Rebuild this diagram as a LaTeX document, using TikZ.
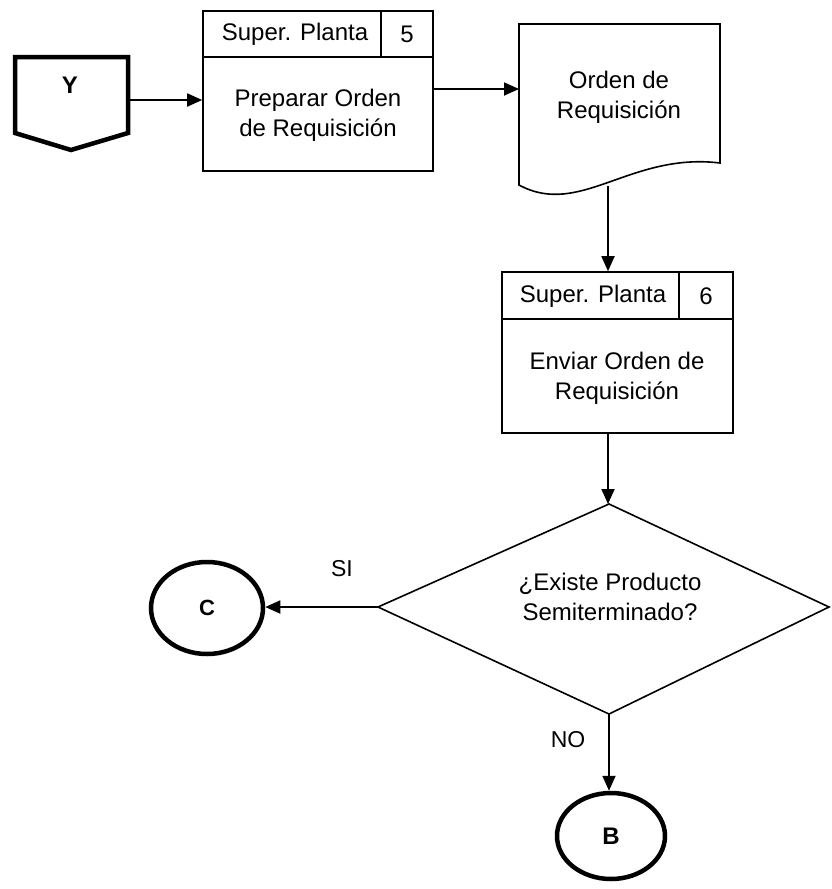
\documentclass[tikz,border=0pt]{standalone}
\usepackage{fontspec}
\setmainfont{Liberation Sans}
\usetikzlibrary{shapes.geometric,arrows.meta}
\begin{document}
\begin{tikzpicture}[x=1pt,y=-1pt,
 lnthin/.style={line width=1.6pt},
 lnthick/.style={line width=4.5pt},
 arr/.style={line width=1.8pt,-{Triangle[length=15pt,width=13pt]}},
 txt/.style={font=\fontsize{24}{30}\selectfont, align=center, inner sep=0pt},
 lbl/.style={font=\fontsize{23}{28}\selectfont, inner sep=0pt},
 btxt/.style={font=\fontsize{24}{28}\selectfont\bfseries, inner sep=0pt},
 box/.style={draw, line width=1.6pt, inner sep=0pt},
 conn/.style={draw, ellipse, line width=4.5pt, inner sep=0pt}]
\useasboundingbox (0,0) rectangle (831,889);

% Off-page connector Y
\draw[lnthick, line join=miter] (15,57) -- (128,57) -- (128,133) -- (71,150) -- (15,133) -- cycle;
\node[btxt] (Y) at (70,85) {Y};
\coordinate (Yr) at (130,100);

% Process box 1
\node[box, minimum width=230pt, minimum height=160pt] (p1) at (318,91) {};
\draw[lnthin] (203,57) -- (433,57);
\draw[lnthin] (381,11) -- (381,57);
\node[txt] (h1) at (295,34) {Super. Planta};
\node[txt] (n1) at (407,34) {5};
\node[txt] (t1) at (318,115) {Preparar Orden\\de Requisición};

\draw[arr] (Yr) -- (Yr -| p1.west);

% Document
\draw[lnthin] (519,24) -- (720,24) -- (720,163) .. controls (630,152) and (580,218) .. (519,185) -- cycle;
\node[txt] (doc) at (619,97) {Orden de\\Requisición};
\coordinate (dl) at (519,89);
\coordinate (docb) at (608,186);
\draw[arr] (p1.east |- dl) -- (dl);

% Process box 2
\node[box, minimum width=231pt, minimum height=161pt] (p2) at (617.5,352.5) {};
\draw[lnthin] (502,319) -- (733,319);
\draw[lnthin] (679,272) -- (679,319);
\node[txt] (h2) at (593,296) {Super. Planta};
\node[txt] (n2) at (706,296) {6};
\node[txt] (t2) at (617,378) {Enviar Orden de\\Requisición};

\draw[arr] (docb) -- (docb |- p2.north);

% Decision
\coordinate (dT) at (609,504);
\coordinate (dL) at (378,607);
\coordinate (dB) at (609,714);
\coordinate (dR) at (829,607);
\draw[lnthin] (dT) -- (dR) -- (dB) -- (dL) -- cycle;
\node[txt] (q) at (610,597) {¿Existe Producto\\Semiterminado?};

\draw[arr] (p2.south -| docb) -- (docb |- dT);

% Connectors
\node[conn, minimum width=112pt, minimum height=92pt] (C) at (207,608) {};
\node[btxt, font=\fontsize{22}{26}\selectfont\bfseries] (Ct) at (C) {C};
\node[conn, minimum width=108pt, minimum height=86pt] (B) at (611,836) {};
\node[btxt] (Bt) at (B) {B};

\draw[arr] (dL) -- (dL -| C.east);
\node[lbl] (si) at (342,569) {SI};
\draw[arr] (dB) -- (dB |- B.north);
\node[lbl] (no) at (568,740) {NO};
\end{tikzpicture}
\end{document}
